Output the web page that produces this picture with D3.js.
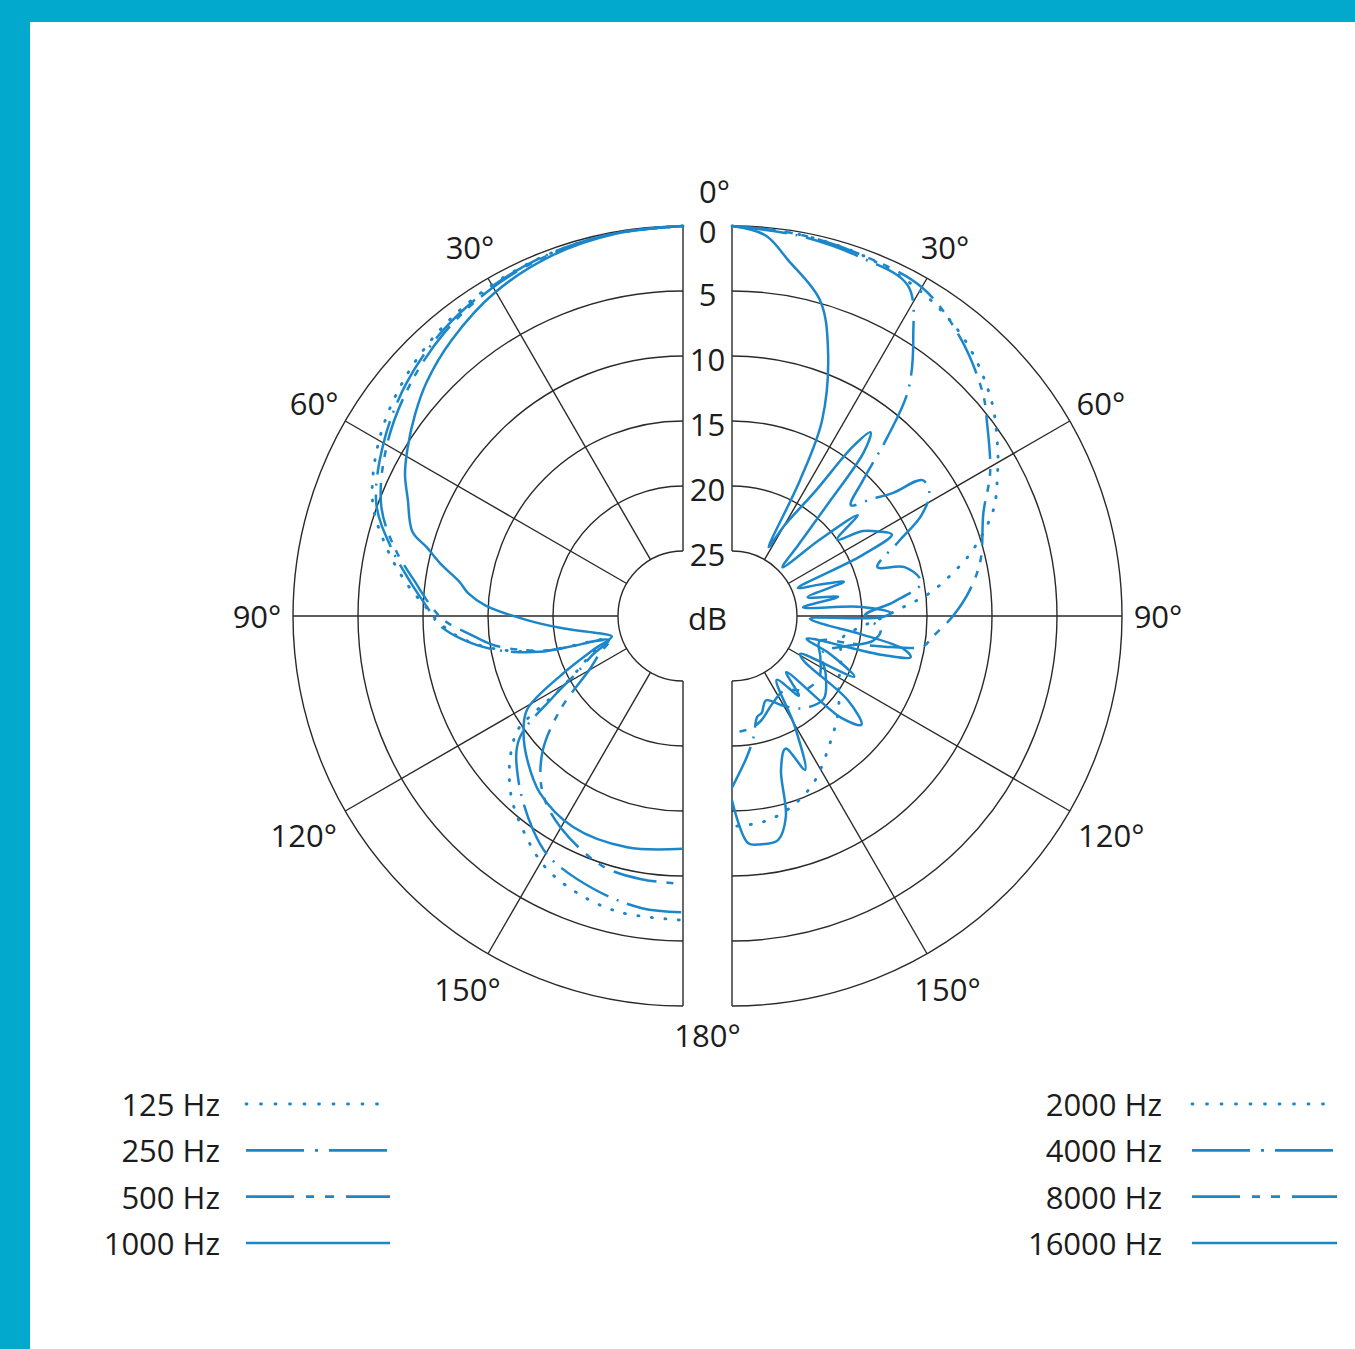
<!DOCTYPE html>
<html><head><meta charset="utf-8">
<script src="https://cdn.jsdelivr.net/npm/d3@7"></script>
<style>html,body{margin:0;padding:0;background:#fff;} svg{display:block;}</style>
</head><body><svg id="c" width="1355" height="1349"></svg>
<script>
// ---- data ----
const ringValues = [0, 5, 10, 15, 20, 25];
const ringLabels = ["0", "5", "10", "15", "20", "25"];
const spokeAngles = [0, 30, 60, 90, 120, 150, 180];
const sideAngleLabels = [30, 60, 90, 120, 150];
const leftNames = ["125 Hz", "250 Hz", "500 Hz", "1000 Hz"];
const rightNames = ["2000 Hz", "4000 Hz", "8000 Hz", "16000 Hz"];

// [angle in degrees, attenuation in dB]
const hz125 = [[0,0],[10,0.1],[20,0.3],[30,0.6],[40,1.1],[50,1.9],[60,3.0],[70,4.6],[77,6.6],[83,8.5],[88,10.2],[92,11.4],[96,13],[100,15.4],[104,18.8],[107.5,24],[112,22.5],[117,21],[121,18.8],[124.5,14.6],[127,13.6],[131,12.3],[137,10.7],[144,9.3],[151,8],[159,7.2],[168,6.7],[180,6.6]];
const hz250 = [[0,0],[10,0.1],[20,0.3],[30,0.7],[40,1.3],[50,2.2],[60,3.4],[70,4.9],[77,7.0],[83,8.9],[88,10.3],[92,11.2],[96,12.9],[100,15.2],[104,18.6],[108,24],[113,22.5],[118,20.8],[122,18.2],[127,14.2],[135,12.1],[145,9.9],[151,8.8],[162,7.9],[172,7.3],[180,7.2]];
const hz500 = [[0,0],[10,0.1],[20,0.35],[30,0.8],[40,1.5],[50,2.5],[60,3.7],[70,5.3],[77,7.3],[83,9.3],[87,10.4],[91,11.6],[95,13.6],[99,15.4],[104,19],[108.5,24],[114,23],[119.5,21.8],[127.4,18.1],[134.2,14.9],[141.7,12.6],[150,11.2],[162,9.8],[171,9.5],[180,9.4]];
const hz1000 = [[0,0],[10,0.15],[20,0.5],[30,1.2],[40,2.3],[47.6,3.3],[53,4.2],[58.7,5.2],[63,6],[67,7],[72.7,8.2],[75,9.6],[78,11],[81.3,12.6],[84,13.4],[87,14.8],[91.5,18],[96,20.8],[101.6,23.4],[106,24.3],[110.7,22.6],[116,19.5],[121,16],[126.2,14.8],[132.7,13.7],[141,12.5],[152.5,11.7],[166.4,11.7],[180,12.1]];

const hz2000 = [[0,0],[10,0.2],[20,0.5],[30,1.1],[40,2.2],[50,4.0],[57.6,5.8],[61.7,6.8],[67.9,8.3],[74.7,10.8],[79,12.7],[83.4,14.7],[87,16.8],[91,18.6],[96,20.4],[102,21.4],[111,21],[121,20.4],[132,19],[142,17.7],[154,15.7],[163,14.6],[171,14],[180,13.8]];
const hz4000 = [[0,0],[10,0.3],[20,0.7],[28,1.2],[33,4.4],[38,8],[41,11.8],[44,15.5],[47,17.5],[50,16],[52.6,14.4],[54.5,12],[58,12.1],[62,13.5],[66,16],[71.4,18.2],[74.2,16.2],[80,15.2],[85,17.5],[90,19.8],[95,18.5],[100,19],[105,21],[112,22.5],[122,21.5],[132,20.5],[142,21],[150,22],[158,23],[163,22.2],[166,22],[170,20.5],[174,19.1],[180,16.8]];
const hz8000 = [[0,0],[10,0.2],[20,0.5],[30,0.8],[39.3,2.3],[48.4,4.2],[52.9,5.4],[61,7.3],[67.7,9.1],[77.3,10.4],[83.8,11.6],[90,13],[96,14.5],[99,15.1],[101,17.5],[103,20.5],[106,23],[115,22.5],[125,21.8],[135,22],[145,23],[155,22.6],[165,21.6],[172,21.2],[180,21]];
const hz16000 = [[0,0],[5,0.6],[9,2.3],[15.6,4.8],[19.8,8.2],[24.7,13.4],[26.6,18.3],[28,24],[30,22],[33.7,18.5],[35.5,14],[37,12.3],[38.8,13.8],[40.6,18.8],[43,22.5],[46,24.6],[49,21],[51.3,17.6],[54,20],[57,18],[60,17],[63,16.2],[65,19],[67,24.5],[70,23],[73,21],[76,24],[79.8,21.7],[83,24.5],[86,20],[88.9,17.8],[90.5,18.5],[92,24],[95,23],[98,20],[101,16.5],[103,15.9],[104.5,18],[107,24],[111,22],[116.4,19.5],[119,24],[122,23.5],[126,19],[130,17],[133,18.5],[136,24],[140,22],[145,24],[150.4,20.2],[154.6,16.9],[158,19],[162.3,17.6],[165,14],[168.4,12.4],[173,12.3],[176,12.5],[180,15.8]];

const leftSeries = [hz125, hz250, hz500, hz1000];
const rightSeries = [hz2000, hz4000, hz8000, hz16000];

// ---- layout / style ----
const W = 1355, H = 1349;
const cxL = 683, cxR = 732, cy = 616;
const R0 = 390, Rin = 65;
const blue = "#1b87ca";
const gridColor = "#2a2a2a";
const textColor = "#1c1c1c";
const dashes = ["1,12.5", "55,9,2,9", "44,10,7,9,7,10", null];
const caps = ["round", "butt", "butt", "butt"];
const font = "'Open Sans', 'Noto Sans', sans-serif";

const svg = d3.select("#c");
svg.append("rect").attr("width", W).attr("height", H).attr("fill", "#02a9cd");
svg.append("rect").attr("x", 30).attr("y", 22).attr("width", W - 30).attr("height", H - 22).attr("fill", "#fff");

const r = d3.scaleLinear().domain([0, 25]).range([R0, Rin]).clamp(true);
const toRad = d => d * Math.PI / 180;

function half(cx, side) { // side -1 = left, +1 = right
  const g = svg.append("g").attr("transform", `translate(${cx},${cy})`);
  ringValues.forEach(v => {
    const p = d3.path();
    const rr = r(v);
    p.moveTo(0, -rr);
    p.arc(0, 0, rr, -Math.PI / 2, Math.PI / 2, side < 0);
    g.append("path").attr("d", p.toString()).attr("fill", "none")
      .attr("stroke", gridColor).attr("stroke-width", 1.4);
  });
  spokeAngles.forEach(a => {
    const s = Math.sin(toRad(a)) * side, c = -Math.cos(toRad(a));
    g.append("line")
      .attr("x1", s * Rin).attr("y1", c * Rin)
      .attr("x2", s * R0).attr("y2", c * R0)
      .attr("stroke", gridColor).attr("stroke-width", 1.4);
  });
  sideAngleLabels.forEach(a => {
    const extra = a === 120 ? 12 : (a === 150 ? 5 : 0);
    const lr = R0 + 36 + extra;
    g.append("text")
      .attr("x", Math.sin(toRad(a)) * side * lr)
      .attr("y", -Math.cos(toRad(a)) * lr)
      .attr("text-anchor", "middle").attr("dominant-baseline", "central")
      .attr("font-family", font).attr("font-size", 31).attr("fill", textColor)
      .text(a + "°");
  });
  return g;
}

const gL = half(cxL, -1);
const gR = half(cxR, 1);

function drawCurves(g, series, side) {
  const line = d3.lineRadial()
    .angle(d => side * toRad(d[0]))
    .radius(d => r(d[1]))
    .curve(d3.curveCatmullRom.alpha(0.5));
  series.forEach((s, i) => {
    g.append("path").attr("d", line(s)).attr("fill", "none")
      .attr("stroke", blue).attr("stroke-width", i === 0 ? 2.9 : 2.5)
      .attr("stroke-linecap", caps[i]).attr("stroke-linejoin", "round")
      .attr("stroke-dasharray", dashes[i]);
  });
}
drawCurves(gL, leftSeries, -1);
drawCurves(gR, rightSeries, 1);

// dB ring labels in the gap
const midX = (cxL + cxR) / 2;
ringValues.forEach((v, i) => {
  svg.append("text").attr("x", midX).attr("y", cy - r(v) + (i === 0 ? 5 : 3))
    .attr("text-anchor", "middle").attr("dominant-baseline", "central")
    .attr("font-family", font).attr("font-size", 31).attr("fill", textColor)
    .text(ringLabels[i]);
});
svg.append("text").attr("x", midX).attr("y", cy + 2)
  .attr("text-anchor", "middle").attr("dominant-baseline", "central")
  .attr("font-family", font).attr("font-size", 31).attr("fill", textColor).text("dB");
svg.append("text").attr("x", midX + 7).attr("y", cy - R0 - 35)
  .attr("text-anchor", "middle").attr("dominant-baseline", "central")
  .attr("font-family", font).attr("font-size", 31).attr("fill", textColor).text("0°");
svg.append("text").attr("x", midX).attr("y", cy + R0 + 29)
  .attr("text-anchor", "middle").attr("dominant-baseline", "central")
  .attr("font-family", font).attr("font-size", 31).attr("fill", textColor).text("180°");

// legends
const legY = d3.scalePoint().domain(d3.range(4)).range([1104, 1243]);
const legendDashes = ["1,13.5", "58,11,3,11", "48,12,8,11,9,12", null];
function legend(names, textX, x1, x2) {
  names.forEach((n, i) => {
    svg.append("text").attr("x", textX).attr("y", legY(i))
      .attr("text-anchor", "end").attr("dominant-baseline", "central")
      .attr("font-family", font).attr("font-size", 31).attr("fill", textColor).text(n);
    svg.append("line").attr("x1", x1).attr("x2", x2)
      .attr("y1", legY(i)).attr("y2", legY(i))
      .attr("stroke", blue).attr("stroke-width", i === 0 ? 2.8 : 2.7)
      .attr("stroke-linecap", caps[i])
      .attr("stroke-dasharray", legendDashes[i]);
  });
}
legend(leftNames, 220, 246, 390);
legend(rightNames, 1162, 1192, 1337);
</script>
</body></html>
